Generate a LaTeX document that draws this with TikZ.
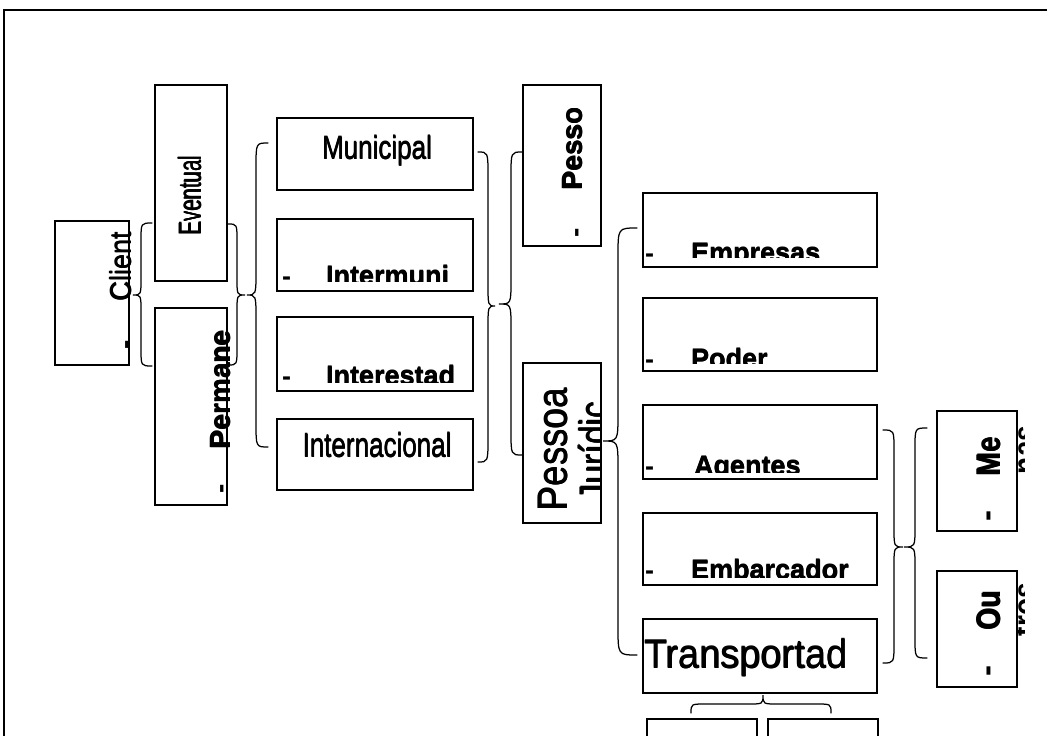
\documentclass[tikz,border=0pt]{standalone}
\usepackage{fontspec}
\setmainfont{Liberation Sans}
\usepackage{graphicx}
\newcommand\fsize[1]{\fontsize{#1bp}{#1bp}\selectfont}
% slightly heavier strokes: overlay the text with small offsets
\newcommand\heavy[1]{\rlap{\hspace{0.45bp}#1}\rlap{\raisebox{0.4bp}{#1}}#1}
% curly brace: end x, spine x, tip x, top y, tip y, bottom y, corner radius
\newcommand\drawbrace[7]{%
  \draw[bracestyle] (#1,#4) .. controls (#2,#4) .. (#2,{#4+#7})
    -- (#2,{#5-#7}) .. controls (#2,#5) .. (#3,#5)
    .. controls (#2,#5) .. (#2,{#5+#7})
    -- (#2,{#6-#7}) .. controls (#2,#6) .. (#1,#6);}
\tikzset{
  box/.style={draw, line width=1.5bp, rectangle, inner sep=0pt, outer sep=0pt},
  bracestyle/.style={line width=1.25bp, line cap=round},
  rtext/.style={rotate=90, anchor=base west, inner sep=0pt, outer sep=0pt},
  htext/.style={anchor=base west, inner sep=0pt, outer sep=0pt},
  ctext/.style={anchor=base, inner sep=0pt, outer sep=0pt}
}
\begin{document}
\begin{tikzpicture}[x=1bp,y=-1bp]
\useasboundingbox (0,0) rectangle (1047,736);
\clip (0,0) rectangle (1047,736);

% outer frame
\draw[line width=1.5bp] (4,760) -- (4,10) -- (1060,10);

% boxes
\node[box, minimum width=74bp, minimum height=144bp] (client) at (92,293) {};
\node[box, minimum width=72bp, minimum height=196bp] (eventual) at (191,183) {};
\node[box, minimum width=72bp, minimum height=197bp] (permane) at (191,406.5) {};
\node[box, minimum width=196bp, minimum height=72bp] (municipal) at (375,154) {};
\node[box, minimum width=196bp, minimum height=72bp] (intermuni) at (375,255) {};
\node[box, minimum width=196bp, minimum height=74bp] (interestad) at (375,354) {};
\node[box, minimum width=196bp, minimum height=71bp] (internacional) at (375,454.5) {};
\node[box, minimum width=78bp, minimum height=161bp] (pfisica) at (562,165.5) {};
\node[box, minimum width=78bp, minimum height=160bp] (pjuridica) at (562,443) {};
\node[box, minimum width=234bp, minimum height=74bp] (empresas) at (760,230) {};
\node[box, minimum width=234bp, minimum height=73bp] (poder) at (760,334.5) {};
\node[box, minimum width=234bp, minimum height=74bp] (agentes) at (760,442) {};
\node[box, minimum width=234bp, minimum height=72bp] (embarcador) at (760,549) {};
\node[box, minimum width=234bp, minimum height=74bp] (transportad) at (760,656) {};
\node[box, minimum width=80bp, minimum height=120bp] (me) at (977,471) {};
\node[box, minimum width=80bp, minimum height=116bp] (ou) at (977,629) {};
\node[box, minimum width=110bp, minimum height=31bp] (sub1) at (702,734.5) {};
\node[box, minimum width=110bp, minimum height=31bp] (sub2) at (823,734.5) {};

% braces
\drawbrace{152}{141}{133}{223}{295}{366}{17}
\drawbrace{228}{237}{245}{224}{295}{365}{17}
\drawbrace{268}{256}{247}{143}{295}{447}{24}
\drawbrace{478}{488}{495}{152}{306}{462}{24}
\drawbrace{522}{511}{499}{152}{304}{455}{24}
\drawbrace{637}{618}{603}{228}{441}{655}{28}
\drawbrace{883}{894}{903}{430}{547}{663}{20}
\drawbrace{927}{915}{904}{428}{547}{658}{20}
\draw[bracestyle] (691,713) .. controls (691,704) .. (706,704) -- (748,704)
  .. controls (763,704) .. (763,695) .. controls (763,704) .. (778,704)
  -- (816,704) .. controls (831,704) .. (831,713);

% vertical labels
\node[rtext] (clientdash) at (134,349) {\fsize{28}\bfseries -};
\node[rtext] (clienttxt) at (131,301) {\fsize{27}\heavy{\scalebox{1}[1.08]{Client}}};
\node[rtext] (eventualtxt) at (201,235) {\fsize{29}\heavy{\scalebox{0.7}[1.1]{Eventual}}};
\node[rtext] (permdash) at (229,493) {\fsize{28}\bfseries -};
\node[rtext] (permtxt) at (230,449) {\fsize{28}\bfseries\heavy{Permane}};
\node[rtext] (pfdash) at (584,237) {\fsize{28}\bfseries -};
\node[rtext] (pftxt) at (582,190) {\fsize{28}\bfseries\heavy{Pesso}};
\node[rtext] (pjtxt) at (567,511) {\fsize{40}\heavy{\scalebox{0.92}[1.04]{Pessoa}}};
\begin{scope}
  \clip (523,363) rectangle (600,523);
  \node[rtext] (pjtxtb) at (609,501) {\fsize{40}\heavy{\scalebox{0.84}[1.04]{Jurídic}}};
\end{scope}
\node[rtext] (medash) at (997,521) {\fsize{33}\bfseries -};
\node[rtext] (metxt) at (1000,476) {\fsize{33}\bfseries\heavy{\scalebox{0.85}[1]{Me}}};
\node[rtext] (oudash) at (997,676) {\fsize{33}\bfseries -};
\node[rtext] (outxt) at (1000,630) {\fsize{33}\bfseries\heavy{\scalebox{0.85}[1]{Ou}}};
\begin{scope}
  \clip (1018,405) rectangle (1024,540);
  \node[rtext] (metxtb) at (1036,474) {\fsize{33}\bfseries\scalebox{0.85}[1]{nas}};
\end{scope}
\begin{scope}
  \clip (1018,565) rectangle (1024,690);
  \node[rtext] (outxtb) at (1036,636) {\fsize{33}\bfseries\scalebox{0.85}[1]{tros}};
\end{scope}

% horizontal labels
\node[ctext] (muntxt) at (377,159) {\fsize{26}\heavy{\scalebox{1}[1.25]{Municipal}}};
\node[ctext] (inttxt) at (377,457) {\fsize{26}\heavy{\scalebox{1}[1.3]{Internacional}}};
\node[htext] (trtxt) at (644,668) {\fsize{38}\heavy{\scalebox{1}[1.06]{Transportad}}};
\begin{scope}
  \clip (277,219) rectangle (473,281);
  \node[htext] (imdash) at (282,285) {\fsize{27}\bfseries -};
  \node[htext] (imtxt) at (326,285) {\fsize{27}\bfseries\heavy{Intermuni}};
\end{scope}
\begin{scope}
  \clip (277,317) rectangle (473,382);
  \node[htext] (iedash) at (282,385) {\fsize{27}\bfseries -};
  \node[htext] (ietxt) at (326,385) {\fsize{27}\bfseries\heavy{Interestad}};
\end{scope}
\begin{scope}
  \clip (643,193) rectangle (877,257);
  \node[htext] (emdash) at (645,262) {\fsize{27}\bfseries -};
  \node[htext] (emtxt) at (691,262) {\fsize{27}\bfseries\heavy{Empresas}};
\end{scope}
\begin{scope}
  \clip (643,298) rectangle (877,363);
  \node[htext] (podash) at (645,368) {\fsize{27}\bfseries -};
  \node[htext] (potxt) at (691,368) {\fsize{27}\bfseries\heavy{Poder}};
\end{scope}
\begin{scope}
  \clip (643,405) rectangle (877,472);
  \node[htext] (agdash) at (645,475) {\fsize{27}\bfseries -};
  \node[htext] (agtxt) at (694,475) {\fsize{27}\bfseries\heavy{Agentes}};
\end{scope}
\begin{scope}
  \clip (643,513) rectangle (877,577);
  \node[htext] (ebdash) at (645,579) {\fsize{27}\bfseries -};
  \node[htext] (ebtxt) at (691,579) {\fsize{27}\bfseries\heavy{Embarcador}};
\end{scope}
\end{tikzpicture}
\end{document}
